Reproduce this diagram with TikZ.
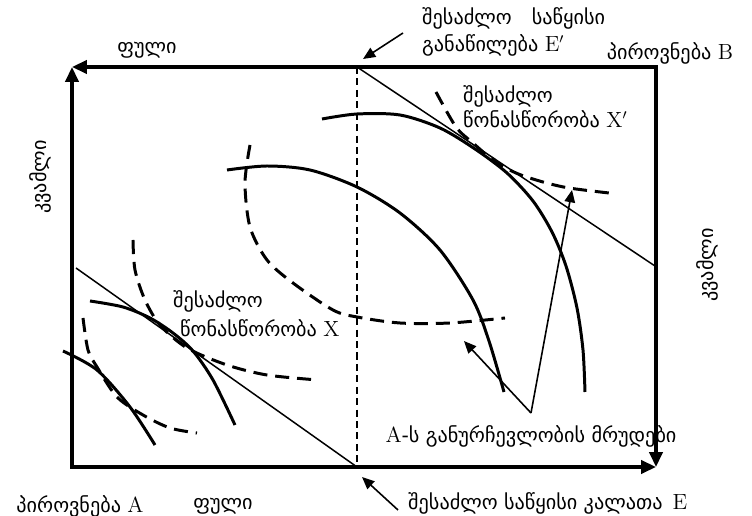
\documentclass[tikz,border=0pt]{standalone}
\usepackage{fontspec}
\newfontfamily\geo{DejaVu Sans}
\usetikzlibrary{arrows.meta}

\tikzset{
  axis/.style={line width=1.9pt, line cap=rect, -{Triangle[length=8.5pt,width=7.5pt]}},
  budget/.style={line width=0.85pt},
  guide/.style={line width=0.6pt, dash pattern=on 4pt off 2.5pt},
  icurve/.style={line width=1.7pt},
  dcurve/.style={line width=1.7pt, dash pattern=on 8pt off 4.5pt},
  ptr/.style={line width=0.9pt, -{Triangle[length=7pt,width=6pt]}},
  lbl/.style={font=\geo\fontsize{11.5}{13}\selectfont, inner sep=0.5pt},
}
\newcommand{\lat}[1]{{\rmfamily\fontsize{12.5}{13}\selectfont #1}}

\begin{document}
\begin{tikzpicture}[x=0.02cm, y=-0.02cm]
\useasboundingbox (0,0) rectangle (752,516);
% Corners of the box
\coordinate (O) at (72,467);
\coordinate (TL) at (72,67);
\coordinate (TR) at (656,67);
\coordinate (BR) at (656,467);
\coordinate (E) at (357,467);
\coordinate (Ep) at (357,67);
% Draw the axes
\draw[axis] (O) -- (TL);
\draw[axis] (TR) -- (TL);
\draw[axis] (TR) -- (BR);
\draw[axis] (O) -- (BR);
\draw[guide] (Ep) -- (E);
% Draw the budget lines
\coordinate (L1) at (76,268);
\coordinate (L2) at (655,266);
\draw[budget] (L1) -- (E);
\draw[budget] (Ep) -- (L2);
% Solid curves
\draw[icurve] plot[smooth] coordinates {(90,301) (123,307) (150,318) (173,333) (193,351) (213,380) (235,425)};
\draw[icurve] plot[smooth] coordinates {(63,351) (97,370) (130,407) (155,445)};
\draw[icurve] plot[smooth] coordinates {(227,170) (267,166) (310,170) (357,187) (400,213) (440,250) (473,300) (489,341) (504,392)};
\draw[icurve] plot[smooth] coordinates {(322,119) (357,114) (400,115) (440,128) (475,149) (507,173) (533,201) (552,232) (566,266) (577,308) (583,350) (585,392)};
% Dashed curves
\draw[dcurve] plot[smooth] coordinates {(83,318) (88,350) (97,367) (117,397) (143,415) (170,428) (197,433)};
\draw[dcurve] plot[smooth] coordinates {(133,240) (135,270) (145,300) (160,325) (187,348) (227,365) (267,375) (318,380)};
\draw[dcurve] plot[smooth] coordinates {(250,145) (245,183) (250,227) (267,260) (293,283) (333,310) (357,317) (400,323) (450,323) (505,318)};
\draw[dcurve] plot[smooth] coordinates {(436,92) (456,127) (473,143) (493,160) (516,173) (543,182) (569,188) (609,193)};
% Label the axes
\node[lbl] (fulT) at (147,50) {ფული};
\node[lbl] (fulB) at (223,506) {ფული};
\node[lbl] (pA) at (80,506) {პიროვნება \lat{A}};
\node[lbl] (pB) at (670,53) {პიროვნება \lat{B}};
\node[lbl, rotate=90] (kvL) at (40,177) {კვამლი};
\node[lbl, rotate=90] (kvR) at (707,265) {კვამლი};
% Label the points
\node[lbl, anchor=west] (Elab1) at (421,18) {შესაძლო\hspace{1em}საწყისი};
\node[lbl, anchor=west] (Elab2) at (421,45) {განაწილება \lat{E}$'$};
\node[lbl, anchor=west] (Xplab1) at (462,96) {შესაძლო};
\node[lbl, anchor=west] (Xplab2) at (462,119) {წონასწორობა \lat{X}$'$};
\node[lbl, anchor=west] (Xlab1) at (172,301) {შესაძლო};
\node[lbl, anchor=west] (Xlab2) at (179,328) {წონასწორობა \lat{X}};
\node[lbl, anchor=west] (Elab3) at (407,503) {შესაძლო საწყისი კალათა\hspace{0.5em}\lat{E}};
\node[lbl] (Alab) at (531,436) {\lat{A}-ს განურჩევლობის მრუდები};
% Pointers
\coordinate (eTop) at (403,33);
\coordinate (eTopTip) at (363,59);
\coordinate (eBot) at (398,510);
\coordinate (eBotTip) at (362,477);
\coordinate (apex) at (531,413);
\coordinate (tipM) at (464,341);
\coordinate (tipR) at (572,190);
\draw[ptr] (eTop) -- (eTopTip);
\draw[ptr] (eBot) -- (eBotTip);
\draw[ptr] (apex) -- (tipM);
\draw[ptr] (apex) -- (tipR);
\end{tikzpicture}
\end{document}
